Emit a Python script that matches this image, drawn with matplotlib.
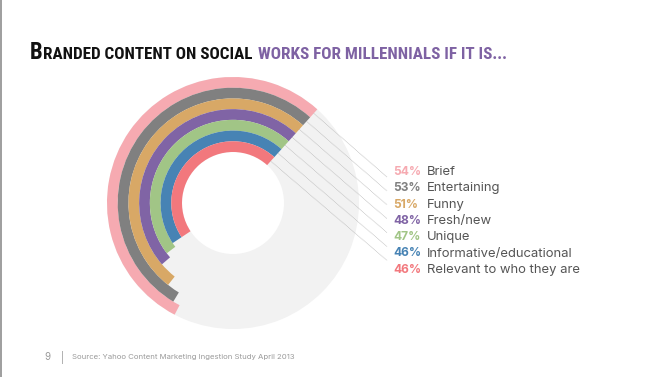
import matplotlib
matplotlib.use("Agg")
import matplotlib.pyplot as plt
from matplotlib.patches import Wedge, Rectangle
from matplotlib import font_manager as fm
import numpy as np

# ---- data ----
categories = ["Brief", "Entertaining", "Funny", "Fresh/new", "Unique",
              "Informative/educational", "Relevant to who they are"]
values = [54, 53, 51, 48, 47, 46, 46]
colors = ["#f6aab1", "#808080", "#d8a866", "#8064a5", "#a1c586", "#4783b4", "#f2787d"]
title_black = "BRANDED CONTENT ON SOCIAL"
title_purple = "WORKS FOR MILLENNIALS IF IT IS..."
footer_page = "9"
footer_source = "Source: Yahoo Content Marketing Ingestion Study April 2013"


def pick(cands):
    for c in cands:
        try:
            fm.findfont(fm.FontProperties(family=c), fallback_to_default=False)
            return c
        except Exception:
            pass
    return "DejaVu Sans"


narrow = pick(["Liberation Sans Narrow", "Roboto Condensed", "Open Sans Condensed",
               "DejaVu Sans Condensed"])
labfont = pick(["Inter", "Open Sans", "Lato"])

W, H = 664, 377
fig = plt.figure(figsize=(W / 100, H / 100), dpi=100)
ax = fig.add_axes([0, 0, 1, 1])
ax.set_xlim(0, W)
ax.set_ylim(H, 0)
ax.set_aspect("equal")
ax.axis("off")

# left border
ax.add_patch(Rectangle((0, 0), 2, H, color="#a0a0a0", lw=0))

cx, cy = 233, 203
r_in, r_out = 51, 126
start = 48.0
n = len(values)
band = (r_out - r_in) / n

ax.add_patch(Wedge((cx, cy), r_out, 0, 360, width=r_out - r_in, color="#f2f2f2", lw=0))

label_y0, label_dy = 172, 16.3
line_end_x = 387
line_end_y0, line_end_dy = 177, 13.9
for i, (cat, v, c) in enumerate(zip(categories, values, colors)):
    ro = r_out - i * band
    span = v * 3.6
    ax.add_patch(Wedge((cx, cy), ro, -start - span, -start, width=band, color=c, lw=0))
    rm = ro - band / 2
    sx = cx + rm * np.cos(np.radians(start))
    sy = cy - rm * np.sin(np.radians(start))
    ey = line_end_y0 + i * line_end_dy
    ax.plot([sx, line_end_x], [sy, ey], color="#b8b8b8", lw=0.55, ls=(0, (1.0, 0.8)))
    ty = label_y0 + i * label_dy
    ax.text(393, ty, f"{v}%", color=c, fontsize=8.6, fontweight="bold",
            family=labfont, va="center", ha="left")
    ax.text(427, ty, cat, color="#555555", fontsize=9.4, family=labfont,
            va="center", ha="left")

# title built from pieces, scaled to fit a target width
fig.canvas.draw()
r = fig.canvas.get_renderer()
x0, x1, yb = 30, 505, 59


def build(s):
    tf = dict(family=[narrow, "DejaVu Sans"], fontweight="bold", va="baseline")
    arts = []
    x = x0
    t1 = ax.text(x, yb, "B", fontsize=22 * s, color="#111111", **tf)
    arts.append(t1)
    x += t1.get_window_extent(r).width
    t2 = ax.text(x, yb, title_black[1:], fontsize=16.5 * s, color="#111111", **tf)
    arts.append(t2)
    x += t2.get_window_extent(r).width + 6
    t3 = ax.text(x, yb, title_purple, fontsize=16.5 * s, color="#7e62a3", **tf)
    arts.append(t3)
    right = t3.get_window_extent(r).x1
    return arts, right


arts, right = build(1.0)
scale = (x1 - x0) / (right - x0)
for a in arts:
    a.remove()
build(scale)

# footer
ax.text(44, 357, footer_page, fontsize=7, color="#9a9a9a", family=labfont, va="center")
ax.text(61, 357, "|", fontsize=7, color="#9a9a9a", family=labfont, va="center")
ax.text(72, 357, footer_source, fontsize=5.6, color="#9a9a9a", family=labfont, va="center")

fig.savefig("out.png", dpi=100, facecolor="white")
